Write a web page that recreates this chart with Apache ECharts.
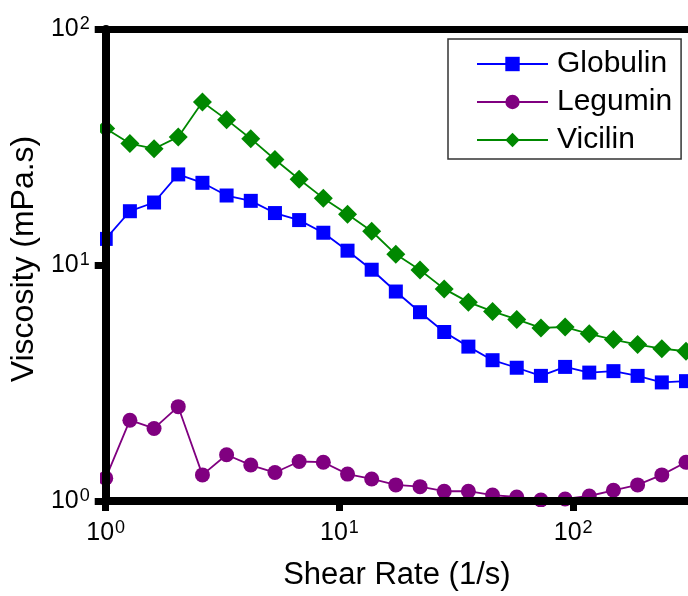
<!DOCTYPE html>
<html>
<head>
<meta charset="utf-8">
<script src="https://cdn.jsdelivr.net/npm/echarts@6/dist/echarts.min.js"></script>
<style>
  html, body { margin: 0; padding: 0; background: #fff; }
  #chart { width: 688px; height: 596px; }
</style>
</head>
<body>
<div id="chart"></div>
<script>
// Shear rate sweep (1/s), logarithmic steps
const shearRate = [1, 1.269, 1.610, 2.043, 2.593, 3.290, 4.175, 5.298, 6.723, 8.532,
  10.83, 13.74, 17.43, 22.12, 28.07, 35.62, 45.20, 57.36, 72.79, 92.37,
  117.2, 148.7, 188.7, 239.5, 303.9];

// Viscosity (mPa.s) of each protein fraction
const globulin = [12.9, 16.9, 18.4, 24.2, 22.3, 19.7, 18.7, 16.6, 15.5, 13.7,
  11.5, 9.55, 7.72, 6.31, 5.20, 4.51, 3.95, 3.67, 3.39, 3.70,
  3.50, 3.55, 3.39, 3.18, 3.22];
const legumin = [1.25, 2.20, 2.03, 2.51, 1.29, 1.57, 1.42, 1.32, 1.47, 1.46,
  1.30, 1.24, 1.17, 1.15, 1.10, 1.10, 1.06, 1.04, 1.01, 1.02,
  1.05, 1.11, 1.17, 1.29, 1.46];
const vicilin = [37.9, 32.7, 31.1, 34.9, 49.1, 41.3, 34.3, 28.0, 23.1, 19.2,
  16.4, 13.9, 11.1, 9.52, 7.92, 6.96, 6.36, 5.88, 5.41, 5.46,
  5.11, 4.83, 4.60, 4.42, 4.31];

// Decade ticks on both axes
const xTicks = [1, 10, 100];
const yTicks = [1, 10, 100];

const FONT = '"Liberation Sans", Arial, sans-serif';

function pairs(ys) {
  return shearRate.map((x, i) => [x, ys[i]]);
}

function powerLabel(v) {
  return '10{s|' + Math.round(Math.log10(v)) + '}';
}

const labelRich = {
  s: { fontSize: 18, fontFamily: FONT, color: '#000', verticalAlign: 'top', padding: [0, 0, 10, 1] }
};

const chart = echarts.init(document.getElementById('chart'), null, { renderer: 'canvas' });

chart.setOption({
  animation: false,
  backgroundColor: '#fff',
  textStyle: { fontFamily: FONT },
  grid: { left: 104, right: 0, top: 29, bottom: 93, containLabel: false },
  // white margins so markers sitting on the frame are cut at the plot edge
  graphic: [
    { type: 'rect', z: 4, silent: true, shape: { x: 0, y: 0, width: 100, height: 596 }, style: { fill: '#fff' } },
    { type: 'rect', z: 4, silent: true, shape: { x: 0, y: 507, width: 688, height: 89 }, style: { fill: '#fff' } }
  ],
  legend: {
    left: 448,
    top: 39,
    orient: 'vertical',
    padding: [10, 9, 4, 28],
    itemGap: 8,
    itemWidth: 71,
    itemHeight: 18,
    borderColor: '#333',
    borderWidth: 1.5,
    backgroundColor: '#fff',
    textStyle: { fontSize: 30, fontFamily: FONT, color: '#000', lineHeight: 30, padding: [0, 0, 0, 4] },
    data: ['Globulin', 'Legumin', 'Vicilin']
  },
  xAxis: [
    {
      type: 'log',
      logBase: 10,
      min: 1,
      max: 310,
      z: 6,
      name: 'Shear Rate (1/s)',
      nameLocation: 'middle',
      nameGap: 59,
      nameTextStyle: { fontSize: 31, fontFamily: FONT, color: '#000' },
      axisLine: { show: true, lineStyle: { color: '#000', width: 8 } },
      axisTick: { show: true, inside: false, length: 10, customValues: xTicks, lineStyle: { color: '#000', width: 7 } },
      minorTick: { show: false },
      splitLine: { show: false },
      axisLabel: {
        customValues: xTicks,
        margin: 18,
        fontSize: 25,
        fontFamily: FONT,
        color: '#000',
        formatter: powerLabel,
        rich: labelRich
      }
    },
    {
      type: 'log',
      logBase: 10,
      min: 1,
      max: 310,
      position: 'top',
      z: 6,
      axisLine: { show: true, lineStyle: { color: '#000', width: 7 } },
      axisTick: { show: false },
      axisLabel: { show: false },
      splitLine: { show: false }
    }
  ],
  yAxis: {
    type: 'log',
    logBase: 10,
    min: 1,
    max: 100,
    z: 6,
    name: 'Viscosity (mPa.s)',
    nameLocation: 'middle',
    nameGap: 54,
    nameTextStyle: { fontSize: 32, fontFamily: FONT, color: '#000', padding: [0, 0, 0, 12] },
    axisLine: { show: true, lineStyle: { color: '#000', width: 8 } },
    axisTick: { show: true, inside: false, length: 11, customValues: yTicks, lineStyle: { color: '#000', width: 7 } },
    minorTick: { show: false },
    splitLine: { show: false },
    axisLabel: {
      customValues: yTicks,
      margin: 16,
      fontSize: 25,
      fontFamily: FONT,
      color: '#000',
      formatter: powerLabel,
      rich: labelRich
    }
  },
  series: [
    {
      name: 'Globulin',
      type: 'line',
      z: 2,
      data: pairs(globulin),
      symbol: 'rect',
      symbolSize: 14,
      color: '#0000ff',
      lineStyle: { color: '#0000ff', width: 1.8 },
      itemStyle: { color: '#0000ff' }
    },
    {
      name: 'Legumin',
      type: 'line',
      z: 2,
      data: pairs(legumin),
      symbol: 'circle',
      symbolSize: 15,
      color: '#800080',
      lineStyle: { color: '#800080', width: 1.8 },
      itemStyle: { color: '#800080' }
    },
    {
      name: 'Vicilin',
      type: 'line',
      z: 2,
      data: pairs(vicilin),
      symbol: 'diamond',
      symbolSize: 19,
      color: '#008800',
      lineStyle: { color: '#008800', width: 1.8 },
      itemStyle: { color: '#008800' }
    }
  ]
});
</script>
</body>
</html>
